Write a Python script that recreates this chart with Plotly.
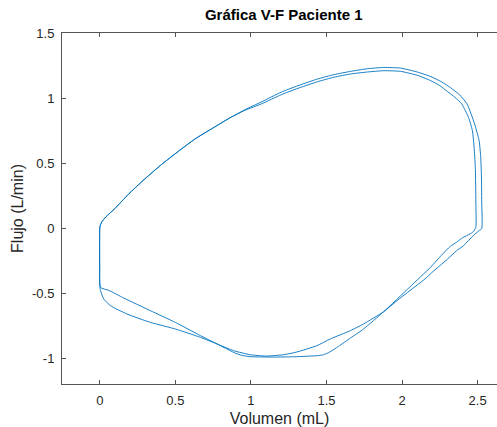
import plotly.graph_objects as go

# Cycle 1 (outer upper curve, outer right side)
vol_c1 = [0.0, 0.003, 0.015, 0.04, 0.10, 0.19, 0.30, 0.41, 0.52, 0.63, 0.75, 0.85, 0.96, 1.07,
          1.20, 1.30, 1.44, 1.55, 1.66, 1.77, 1.88, 1.99, 2.10, 2.19, 2.26, 2.32, 2.38, 2.43, 2.48, 2.51,
          2.52, 2.525, 2.527, 2.527,
          2.51, 2.47, 2.406, 2.36, 2.30, 2.186, 2.164, 1.966, 1.877, 1.745, 1.657, 1.524,
          1.437, 1.30, 1.216, 1.10, 0.996, 0.886, 0.776, 0.666, 0.50, 0.335, 0.181, 0.071,
          0.026, 0.005, 0.0, 0.0]
flow_c1 = [0.0, 0.02, 0.05, 0.085, 0.15, 0.26, 0.38, 0.49, 0.59, 0.685, 0.77, 0.84, 0.91, 0.97,
           1.045, 1.09, 1.146, 1.18, 1.205, 1.225, 1.235, 1.23, 1.20, 1.165, 1.125, 1.08, 1.025, 0.954, 0.80, 0.67,
           0.55, 0.40, 0.20, -0.005,
           -0.02, -0.06, -0.136, -0.175, -0.24, -0.354, -0.38, -0.559, -0.645, -0.738, -0.79, -0.854,
           -0.905, -0.955, -0.975, -0.985, -0.975, -0.944, -0.892, -0.841, -0.777, -0.726, -0.662, -0.598,
           -0.546, -0.482, -0.45, 0.0]

# Cycle 2 (inner upper curve, inner right side)
vol_c2 = [0.0, 0.003, 0.015, 0.04, 0.10, 0.19, 0.30, 0.41, 0.52, 0.63, 0.75, 0.85, 0.96, 1.07,
          1.20, 1.30, 1.44, 1.55, 1.66, 1.77, 1.88, 1.99, 2.10, 2.19, 2.25, 2.30, 2.35, 2.395, 2.44, 2.465,
          2.478, 2.485, 2.488, 2.488,
          2.47, 2.45, 2.40, 2.36, 2.32, 2.26, 2.19, 2.05, 1.877, 1.745, 1.66, 1.58, 1.52, 1.48,
          1.44, 1.30, 1.15, 1.00, 0.94, 0.886, 0.776, 0.666, 0.50, 0.335, 0.159, 0.06, 0.005,
          0.0, 0.0]
flow_c2 = [0.0, 0.02, 0.05, 0.085, 0.15, 0.26, 0.38, 0.49, 0.59, 0.685, 0.77, 0.84, 0.905, 0.955,
           1.025, 1.07, 1.125, 1.16, 1.185, 1.20, 1.21, 1.205, 1.175, 1.133, 1.095, 1.05, 1.005, 0.954, 0.85, 0.75,
           0.60, 0.45, 0.20, 0.005,
           -0.03, -0.045, -0.075, -0.11, -0.14, -0.21, -0.30, -0.455, -0.645, -0.777, -0.845, -0.91,
           -0.955, -0.975, -0.982, -0.99, -0.993, -0.99, -0.98, -0.957, -0.892, -0.828, -0.726, -0.636,
           -0.539, -0.48, -0.457, -0.30, 0.0]

x_ticks = [0, 0.5, 1, 1.5, 2, 2.5]
x_tick_labels = ["0", "0.5", "1", "1.5", "2", "2.5"]
y_ticks = [-1, -0.5, 0, 0.5, 1, 1.5]
y_tick_labels = ["-1", "-0.5", "0", "0.5", "1", "1.5"]

line_color = "#0072BD"
axis_color = "#555555"
font_family = "Liberation Sans, Arial, Helvetica, sans-serif"

fig = go.Figure()
for vx, fy in ((vol_c1, flow_c1), (vol_c2, flow_c2)):
    fig.add_trace(go.Scatter(x=vx, y=fy, mode="lines",
                             line=dict(color=line_color, width=0.9, shape="spline", smoothing=0.5),
                             showlegend=False))

fig.update_layout(
    width=497, height=427,
    margin=dict(l=62, r=0, t=33, b=43),
    paper_bgcolor="white", plot_bgcolor="white",
    font=dict(family=font_family, size=13, color="#262626"),
    title=dict(text="<b>Gráfica V-F Paciente 1</b>", x=283.7 / 497, xanchor="center",
               y=1 - 15 / 427, yanchor="middle", xref="container", yref="container",
               font=dict(size=15, color="#000000")),
)
fig.update_xaxes(
    range=[-0.25, 2.628], tickvals=x_ticks, ticktext=x_tick_labels,
    showgrid=False, zeroline=False, showline=True, linecolor=axis_color, linewidth=1,
    mirror="ticks", ticks="inside", ticklen=4, tickcolor=axis_color,
    title=dict(text="Volumen (mL)", standoff=6), ticklabelstandoff=4,
)
fig.update_yaxes(
    range=[-1.2, 1.5], tickvals=y_ticks, ticktext=y_tick_labels,
    showgrid=False, zeroline=False, showline=True, linecolor=axis_color, linewidth=1,
    mirror=False, ticks="inside", ticklen=4, tickcolor=axis_color,
    title=dict(text="Flujo (L/min)", standoff=4), ticklabelstandoff=4,
)

fig.write_html("out.html")
